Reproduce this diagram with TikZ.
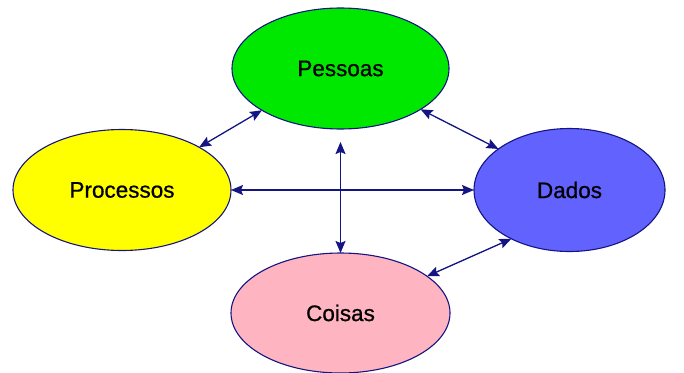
\documentclass[tikz,border=0pt]{standalone}
\usepackage{fontspec}
\setmainfont[FakeBold=0.8]{Liberation Sans}
\usetikzlibrary{arrows.meta,shapes.geometric}
\definecolor{navy}{RGB}{20,20,130}
\definecolor{pgreen}{RGB}{0,232,0}
\definecolor{pyellow}{RGB}{255,255,0}
\definecolor{pblue}{RGB}{98,98,255}
\definecolor{ppink}{RGB}{255,180,194}
\begin{document}
\begin{tikzpicture}[x=1pt,y=-1pt,
  blob/.style={ellipse, draw=navy, line width=1.1pt, inner sep=0pt, outer sep=0pt,
    font=\fontsize{22.5}{26}\selectfont, text=black},
  link/.style={draw=navy, line width=1.3pt, {Stealth[length=12pt,width=10pt,inset=2pt]}-{Stealth[length=12pt,width=10pt,inset=2pt]}}]
\useasboundingbox (0,0) rectangle (684,372);
\node[blob, fill=pgreen, minimum width=217pt, minimum height=121pt] (pess) at (340.5,68.5) {Pessoas};
\node[blob, fill=pyellow, minimum width=218pt, minimum height=121pt] (proc) at (122,190) {Processos};
\node[blob, fill=pblue, minimum width=191pt, minimum height=123pt] (dados) at (569.5,190) {Dados};
\node[blob, fill=ppink, minimum width=219pt, minimum height=120pt] (cois) at (340.5,313) {Coisas};
\draw[link] (proc.29.5) -- (pess.208.1);
\draw[link] (pess.333.6) -- (dados.150.6);
\draw[link] (proc.east) -- (dados.west);
\draw[link, shorten <=13pt] (pess.south) -- (cois.north);
\draw[link] (cois.23.7) -- (dados.220);
\end{tikzpicture}
\end{document}
